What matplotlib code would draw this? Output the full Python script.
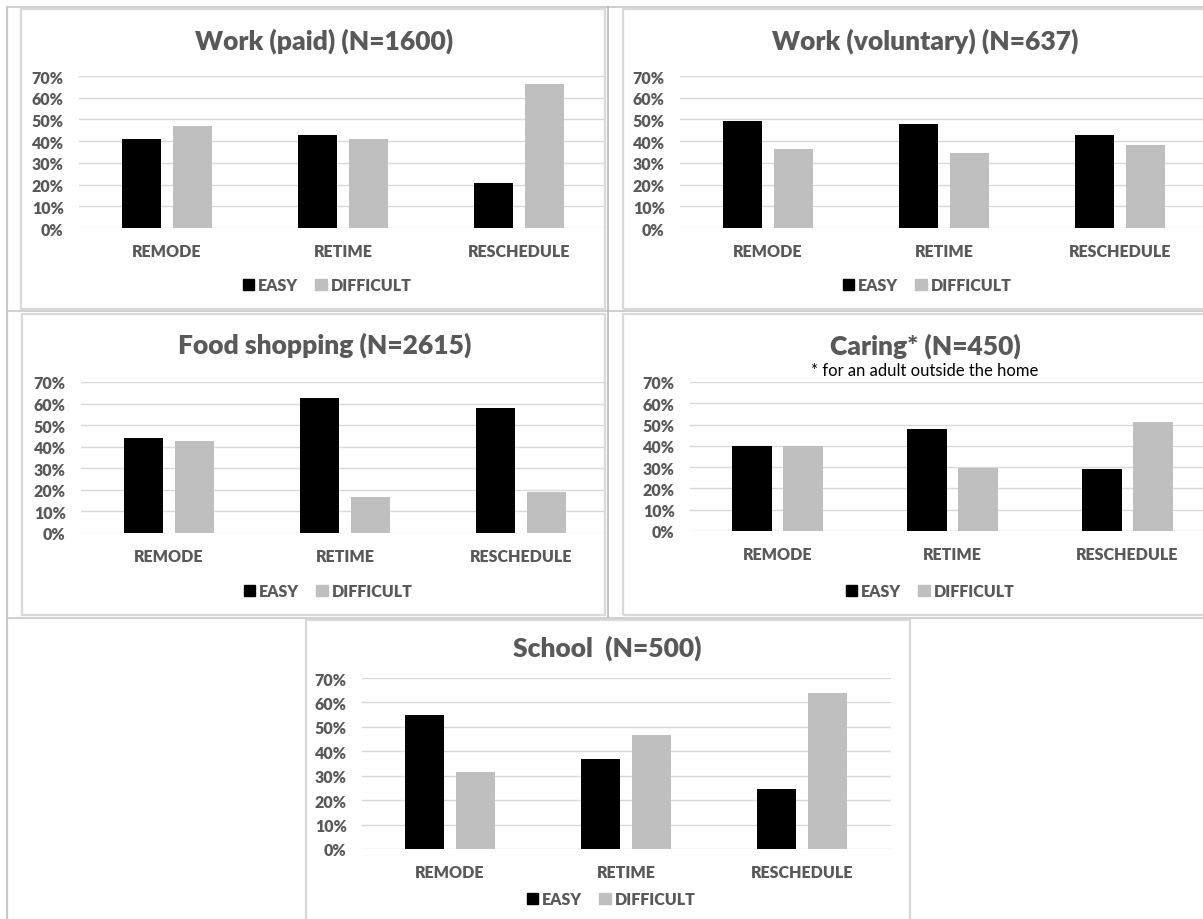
import matplotlib
matplotlib.use('Agg')
import matplotlib.pyplot as plt
from matplotlib.patches import Patch, Rectangle
from matplotlib.lines import Line2D
from matplotlib.ticker import PercentFormatter
import numpy as np

plt.rcParams['font.family'] = ['Lato', 'DejaVu Sans']

categories = ['REMODE', 'RETIME', 'RESCHEDULE']
series_names = ['EASY', 'DIFFICULT']

paid_easy = [41, 43, 20.5]
paid_diff = [47, 41, 66.5]
vol_easy = [49.5, 48, 43]
vol_diff = [36.5, 34.5, 38]
food_easy = [44, 62.5, 58]
food_diff = [42.5, 16.5, 19]
caring_easy = [40, 48, 29]
caring_diff = [40, 29.5, 51]
school_easy = [55, 37, 24.5]
school_diff = [31.5, 46.5, 64]

W, H = 1203, 920
EASY_C = '#000000'
DIFF_C = '#bfbfbf'
TEXT_C = '#595959'
GRID_C = '#d9d9d9'

fig = plt.figure(figsize=(W / 100, H / 100), dpi=100)


def fx(x):
    return x / W


def fy(y):
    return 1 - y / H


# table / chart borders (pixel coords)
def hline(y, x0, x1, color, lw):
    fig.add_artist(Line2D([fx(x0), fx(x1)], [fy(y), fy(y)], color=color, lw=lw))


def vline(x, y0, y1, color, lw):
    fig.add_artist(Line2D([fx(x), fx(x)], [fy(y0), fy(y1)], color=color, lw=lw))


def box(x0, y0, x1, y1):
    fig.add_artist(Rectangle((fx(x0), fy(y1)), fx(x1) - fx(x0), fy(y0) - fy(y1),
                             fill=False, ec='#d9d9d9', lw=1.6))


CELL = '#c8c8c8'
hline(8, 7, 1203, CELL, 1.2)
hline(312, 7, 1203, CELL, 1.2)
hline(618.5, 7, 1203, CELL, 1.2)
vline(7, 8, 920, CELL, 1.5)
vline(608, 8, 618, '#b8b8b8', 1.2)

box(21, 10, 605, 310)
box(623, 10, 1206, 310)
box(22, 315, 605, 616)
box(623, 315, 1206, 616)
box(306, 621, 910, 922)


def panel(easy, diff, left, top, right, bottom, spacing, title, title_xy,
          legend_xy, sub=None, sub_xy=None):
    ax = fig.add_axes([fx(left), fy(bottom), fx(right) - fx(left), fy(top) - fy(bottom)])
    x = np.arange(len(categories))
    w = 0.224
    off = 0.146
    ax.bar(x - off, easy, w, color=EASY_C, zorder=3)
    ax.bar(x + off, diff, w, color=DIFF_C, zorder=3)
    ax.set_xlim(-0.5, -0.5 + (right - left) / spacing)
    ax.set_ylim(0, 70)
    ax.set_yticks(np.arange(0, 71, 10))
    ax.yaxis.set_major_formatter(PercentFormatter(decimals=0))
    ax.set_xticks(x)
    ax.set_xticklabels(categories)
    ax.yaxis.grid(True, color=GRID_C, lw=1.0, zorder=0)
    ax.set_axisbelow(True)
    for s in ax.spines.values():
        s.set_visible(False)
    ax.tick_params(axis='y', length=0, pad=11, labelsize=11.5, labelcolor=TEXT_C)
    ax.tick_params(axis='x', length=0, pad=11, labelsize=11.5, labelcolor=TEXT_C)
    for lab in ax.get_xticklabels() + ax.get_yticklabels():
        lab.set_fontweight('heavy')
    ax.patch.set_alpha(0)

    fig.text(fx(title_xy[0]), fy(title_xy[1]), title, ha='center', va='center',
             fontsize=19, fontweight='heavy', color=TEXT_C)
    if sub:
        fig.text(fx(sub_xy[0]), fy(sub_xy[1]), sub, ha='center', va='center',
                 fontsize=12, color='#000000')
    handles = [Patch(color=EASY_C), Patch(color=DIFF_C)]
    leg = fig.legend(handles, series_names, loc='center',
                     bbox_to_anchor=(fx(legend_xy[0]), fy(legend_xy[1])),
                     ncol=2, frameon=False, handlelength=0.7, handleheight=0.7,
                     handletextpad=0.25, columnspacing=1.1,
                     prop={'weight': 'heavy', 'size': 11.5})
    for t in leg.get_texts():
        t.set_color(TEXT_C)
    return ax


panel(paid_easy, paid_diff, 79, 77, 605, 229, 176, 'Work (paid) (N=1600)',
      (324, 41), (327, 286))
panel(vol_easy, vol_diff, 680, 77, 1203, 229, 176, 'Work (voluntary) (N=637)',
      (925, 41), (927, 286))
panel(food_easy, food_diff, 81, 383, 605, 534, 176, 'Food shopping (N=2615)',
      (325, 345), (328, 592))
panel(caring_easy, caring_diff, 690, 383, 1203, 532, 175, 'Caring* (N=450)',
      (925, 346), (930, 592), sub='* for an adult outside the home', sub_xy=(925, 371))
panel(school_easy, school_diff, 362, 679, 891, 850, 176, 'School  (N=500)',
      (607, 648), (611, 900))

fig.savefig('out.png', dpi=100, facecolor='white')
